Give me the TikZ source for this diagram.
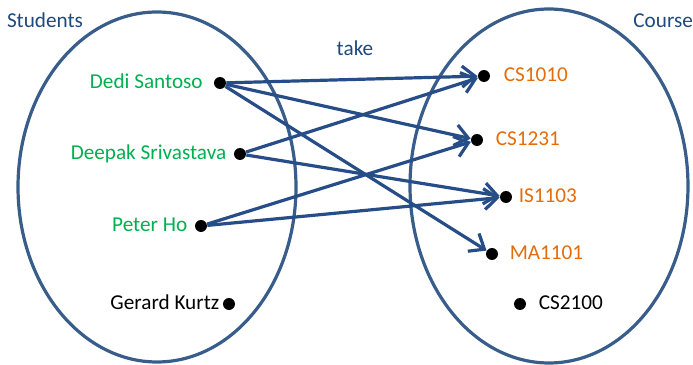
\documentclass[tikz,border=0pt]{standalone}
\usepackage{fontspec}
\setmainfont{Carlito}
\usepackage{tikz}
\usetikzlibrary{positioning, arrows.meta}
\definecolor{setblue}{RGB}{56,93,138}
\definecolor{linkblue}{RGB}{38,77,135}
\definecolor{titleblue}{RGB}{31,73,125}
\definecolor{stgreen}{RGB}{0,176,80}
\definecolor{csorange}{RGB}{228,108,10}
\tikzset{
	dot/.style={
		circle,
		fill=black,
		inner sep=0pt,
		minimum size=6pt
	},
	itemlabel/.style={
		inner sep=1pt,
		text height=1.5ex,
		text depth=.25ex
	},
	student/.style={itemlabel, text=stgreen},
	course/.style={itemlabel, text=csorange},
	setline/.style={draw=setblue, line width=1.6pt},
	link/.style={
		draw=linkblue,
		line width=1.6pt,
		-{Straight Barb[length=6.5pt, width=10.5pt]}
	}
}

\begin{document}
\begin{tikzpicture}[x=0.5pt, y=0.5pt, font=\fontsize{10.6}{12}\selectfont]
	\useasboundingbox (0,0) rectangle (693,365);

	% the two sets
	\draw[setline] (157,178) ellipse [x radius=139, y radius=175];
	\draw[setline] (549,179) ellipse [x radius=139, y radius=177];

	% set titles
	\node[text=titleblue] (studentsdsc) at (45,345) {Students};
	\node[text=titleblue, anchor=west, inner sep=0pt] (coursedsc) at (633,344) {Course};
	\node[text=titleblue] (takedsc) at (355,317) {take};

	% students
	\node[dot] (dedi) at (220,282) {};
	\node[dot] (deepak) at (240,211) {};
	\node[dot] (peter) at (201,139) {};
	\node[dot] (gerard) at (229,61) {};
	\node[student, left=4.25pt of dedi] (dedidsc) {Dedi Santoso};
	\node[student, left=2.5pt of deepak] (deepakdsc) {Deepak Srivastava};
	\node[student, left=2.5pt of peter] (peterdsc) {Peter Ho};
	\node[itemlabel, left=0.5pt of gerard] (gerarddsc) {Gerard Kurtz};

	% courses
	\node[dot] (cs1010) at (484,289) {};
	\node[dot] (cs1231) at (477,225) {};
	\node[dot] (is1103) at (506,168) {};
	\node[dot] (ma1101) at (492,111) {};
	\node[dot] (cs2100) at (520,61) {};
	\node[course, right=5.5pt of cs1010] (cs1010dsc) {CS1010};
	\node[course, right=5pt of cs1231] (cs1231dsc) {CS1231};
	\node[course, right=2pt of is1103] (is1103dsc) {IS1103};
	\node[course, right=4.5pt of ma1101] (ma1101dsc) {MA1101};
	\node[itemlabel, right=5pt of cs2100] (cs2100dsc) {CS2100};

	% who takes what
	\begin{scope}[link]
	\foreach \src/\dst in {dedi/cs1010, dedi/cs1231, dedi/ma1101, deepak/cs1010, deepak/is1103, peter/cs1231, peter/is1103} {
		\draw (\src) -- (\dst);
	}
	\end{scope}
\end{tikzpicture}
\end{document}
